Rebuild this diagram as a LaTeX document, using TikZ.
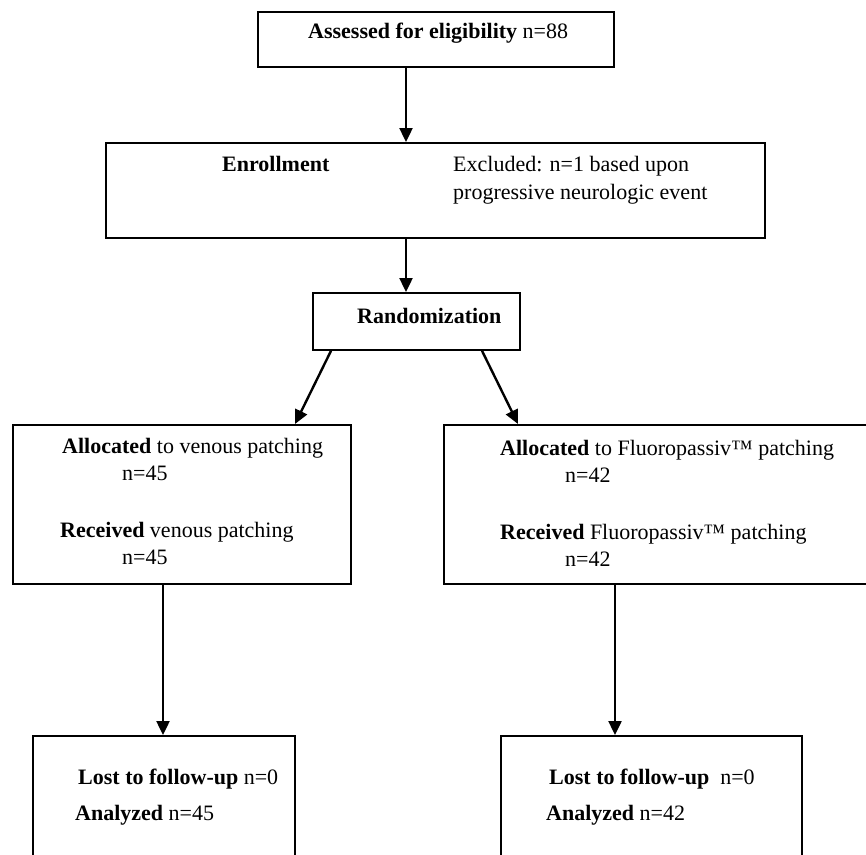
\documentclass[tikz,border=0pt]{standalone}
\usepackage{fontspec}
\setmainfont{Liberation Serif}
\usetikzlibrary{arrows.meta,calc}
\begin{document}
\begin{tikzpicture}[x=1pt,y=-1pt,
  box/.style={draw,line width=1.8pt,inner sep=0pt,anchor=north west},
  txt/.style={anchor=base west,inner sep=0pt,font=\fontsize{22}{26}\selectfont},
  arr/.style={line width=2.4pt,-{Triangle[length=14pt,width=13pt]}}]
\useasboundingbox (0,0) rectangle (866,854);
\clip (0,0) rectangle (866,854);
% boxes
\node[box,minimum width=356pt,minimum height=55pt] (assess) at (257,11) {};
\node[box,minimum width=659pt,minimum height=95pt] (enroll) at (105,142) {};
\node[box,minimum width=207pt,minimum height=57pt] (rand) at (312,292) {};
\node[box,minimum width=338pt,minimum height=159pt] (allocL) at (12,424) {};
\node[box,minimum width=440pt,minimum height=159pt] (allocR) at (443,424) {};
\node[box,minimum width=262pt,minimum height=140pt] (lostL) at (32,735) {};
\node[box,minimum width=301pt,minimum height=140pt] (lostR) at (500,735) {};
% texts
\node[txt] (t1) at (308,38) {\textbf{Assessed for eligibility} n=88};
\node[txt] (t2) at (222,171) {\textbf{Enrollment}};
\node[txt] (t3) at (453,171) {Excluded: n=1 based upon};
\node[txt] (t4) at (453,199) {progressive neurologic event};
\node[txt] (t5) at (357,323) {\textbf{Randomization}};
\node[txt] (t6) at (62,453) {\textbf{Allocated} to venous patching};
\node[txt] (t7) at (122,480) {n=45};
\node[txt] (t8) at (60,537) {\textbf{Received} venous patching};
\node[txt] (t9) at (122,564) {n=45};
\node[txt] (t10) at (500,455) {\textbf{Allocated} to Fluoropassiv™ patching};
\node[txt] (t11) at (565,482) {n=42};
\node[txt] (t12) at (500,539) {\textbf{Received} Fluoropassiv™ patching};
\node[txt] (t13) at (565,566) {n=42};
\node[txt] (t14) at (78,784) {\textbf{Lost to follow-up} n=0};
\node[txt] (t15) at (75,820) {\textbf{Analyzed} n=45};
\node[txt] (t16) at (549,784) {\textbf{Lost to follow-up}\ \ n=0};
\node[txt] (t17) at (546,820) {\textbf{Analyzed} n=42};
% connector x positions
\coordinate (c1) at (406,0);
\coordinate (cl1) at (331,0);
\coordinate (cl2) at (295,0);
\coordinate (cr1) at (482,0);
\coordinate (cr2) at (518,0);
\coordinate (cd1) at (163,0);
\coordinate (cd2) at (615,0);
\draw[arr] (assess.south -| c1) -- (enroll.north -| c1);
\draw[arr] (enroll.south -| c1) -- (rand.north -| c1);
\draw[arr] (rand.south -| cl1) -- (allocL.north -| cl2);
\draw[arr] (rand.south -| cr1) -- (allocR.north -| cr2);
\draw[arr] (allocL.south -| cd1) -- (lostL.north -| cd1);
\draw[arr] (allocR.south -| cd2) -- (lostR.north -| cd2);
\end{tikzpicture}
\end{document}
